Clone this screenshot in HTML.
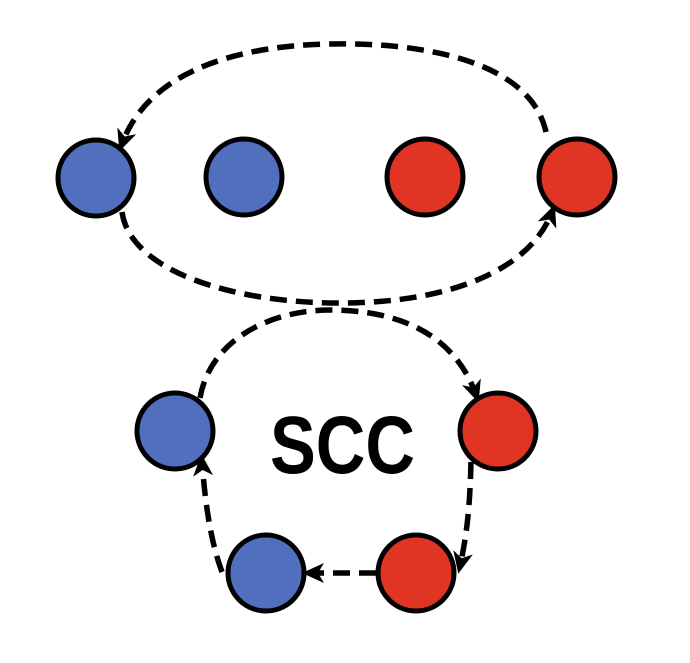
<!DOCTYPE html>
<html><head><style>body{margin:0;background:#fff}</style></head><body>
<svg width="690" height="658" viewBox="0 0 690 658" xmlns="http://www.w3.org/2000/svg">
<defs>
<marker id="b" markerWidth="22" markerHeight="22" refX="14" refY="11" orient="auto" markerUnits="userSpaceOnUse" viewBox="0 0 22 22">
<path d="M0,1 L22,11 L0,21 L6,11 Z" fill="#000"/>
</marker>
</defs>
<g fill="none" stroke="#000" stroke-width="5.5" stroke-dasharray="17,9">
<path d="M546,132 C530,60 420,42 330,44 C220,46 145,80 122,144" marker-end="url(#b)"/>
<path d="M122,212 C130,270 230,303 340,303 C450,303 530,270 552,212" marker-end="url(#b)"/>
<path d="M200,398 C210,340 270,310 330,310 C400,310 455,335 476,395" marker-end="url(#b)"/>
<path d="M471,462 C470,500 468,530 460,566" marker-end="url(#b)"/>
<path d="M376,573 L310,573" marker-end="url(#b)"/>
<path d="M222,572 C210,540 205,500 202,462" marker-end="url(#b)"/>
</g>
<g stroke="#000" stroke-width="5">
<circle cx="96" cy="178" r="38" fill="#5070BE"/>
<circle cx="244" cy="177" r="38" fill="#5070BE"/>
<circle cx="425" cy="177" r="38" fill="#E03424"/>
<circle cx="577" cy="177" r="38" fill="#E03424"/>
<circle cx="175" cy="431" r="38" fill="#5070BE"/>
<circle cx="498" cy="431" r="38" fill="#E03424"/>
<circle cx="266" cy="573" r="38" fill="#5070BE"/>
<circle cx="416" cy="573" r="38" fill="#E03424"/>
</g>
<text x="270" y="473" textLength="145" lengthAdjust="spacingAndGlyphs" font-family="Liberation Sans, sans-serif" font-weight="bold" font-size="82" fill="#000">SCC</text>
</svg>
</body></html>
